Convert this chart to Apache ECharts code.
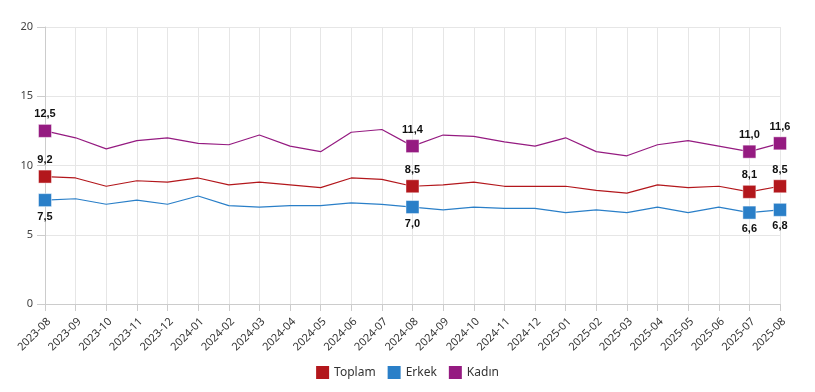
<!DOCTYPE html>
<html>
<head>
<meta charset="utf-8">
<script src="https://cdn.jsdelivr.net/npm/echarts@6/dist/echarts.min.js"></script>
<style>html,body{margin:0;padding:0;background:#fff}#c{width:815px;height:392px}</style>
</head>
<body>
<div id="c"></div>
<script>
const categories = ["2023-08","2023-09","2023-10","2023-11","2023-12","2024-01","2024-02","2024-03","2024-04","2024-05","2024-06","2024-07","2024-08","2024-09","2024-10","2024-11","2024-12","2025-01","2025-02","2025-03","2025-04","2025-05","2025-06","2025-07","2025-08"];
const toplam = [9.2,9.1,8.5,8.9,8.8,9.1,8.6,8.8,8.6,8.4,9.1,9.0,8.5,8.6,8.8,8.5,8.5,8.5,8.2,8.0,8.6,8.4,8.5,8.1,8.5];
const erkek  = [7.5,7.6,7.2,7.5,7.2,7.8,7.1,7.0,7.1,7.1,7.3,7.2,7.0,6.8,7.0,6.9,6.9,6.6,6.8,6.6,7.0,6.6,7.0,6.6,6.8];
const kadin  = [12.5,12.0,11.2,11.8,12.0,11.6,11.5,12.2,11.4,11.0,12.4,12.6,11.4,12.2,12.1,11.7,11.4,12.0,11.0,10.7,11.5,11.8,11.4,11.0,11.6];
const highlighted = [0,12,23,24];
const yTicks = [0,5,10,15,20];

const fmt = v => v.toFixed(1).replace('.', ',');
function mk(values, color, pos) {
  return values.map((v, i) => highlighted.includes(i) ? {
    value: v, symbol: 'rect', symbolSize: 13,
    itemStyle: {color: color, borderColor: 'rgba(255,255,255,0.45)', borderWidth: 1},
    label: {show: true, position: pos, distance: 4, formatter: p => fmt(p.value),
      color: '#111', fontWeight: 'bold', fontSize: 11, fontFamily: 'Liberation Sans, Arial, sans-serif'}
  } : {value: v, symbol: 'none'});
}
const series = [
  {name: 'Toplam', color: '#b3171c', data: mk(toplam, '#b3171c', 'top')},
  {name: 'Erkek', color: '#2a7fc8', data: mk(erkek, '#2a7fc8', 'bottom')},
  {name: 'Kadın', color: '#951b81', data: mk(kadin, '#951b81', 'top')}
].map(s => ({type: 'line', name: s.name, data: s.data, color: s.color,
  lineStyle: {width: 1.2, color: s.color}, itemStyle: {color: s.color},
  showSymbol: true, animation: false, emphasis: {disabled: true}}));

const chart = echarts.init(document.getElementById('c'), null, {renderer: 'canvas'});
chart.setOption({
  animation: false,
  textStyle: {fontFamily: 'Noto Sans, Open Sans, sans-serif'},
  grid: {left: 45, right: 35, top: 27, bottom: 88, containLabel: false},
  legend: {
    bottom: 8, left: 'center', itemWidth: 13, itemHeight: 13, itemGap: 12,
    icon: 'rect', textStyle: {color: '#333', fontSize: 12},
    data: ['Toplam', 'Erkek', 'Kadın']
  },
  xAxis: {
    type: 'category', data: categories, boundaryGap: false,
    axisLine: {lineStyle: {color: '#ccc'}},
    axisTick: {show: true, length: 7, lineStyle: {color: '#ccc'}},
    axisLabel: {rotate: 45, color: '#333', fontSize: 11, interval: 0, margin: 12, verticalAlign: 'top'},
    splitLine: {show: true, lineStyle: {color: '#e6e6e6'}}
  },
  yAxis: {
    type: 'value', min: yTicks[0], max: yTicks[yTicks.length-1], interval: 5,
    axisLine: {show: true, lineStyle: {color: '#ccc'}},
    axisTick: {show: true, length: 8, lineStyle: {color: '#ccc'}},
    axisLabel: {color: '#444', fontSize: 11, margin: 12},
    splitLine: {lineStyle: {color: '#e6e6e6'}}
  },
  series: series
});
</script>
</body>
</html>
